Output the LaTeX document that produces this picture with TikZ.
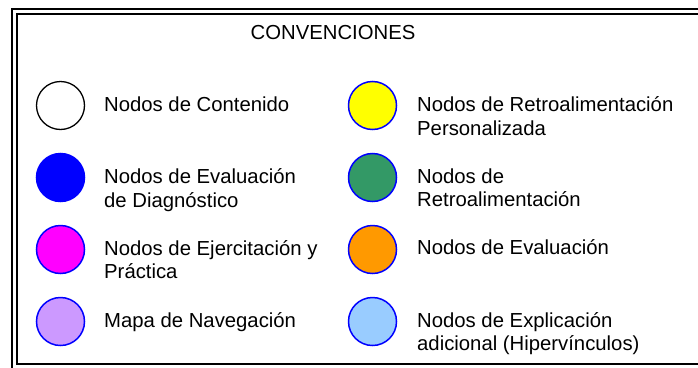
\documentclass[tikz,border=0pt]{standalone}
\usepackage{fontspec}
\setmainfont{Liberation Sans}
\usepackage{tikz}
\usetikzlibrary{positioning}

\definecolor{nodoBlue}{RGB}{0,0,255}
\definecolor{nodoMagenta}{RGB}{255,0,255}
\definecolor{nodoLila}{RGB}{204,153,255}
\definecolor{nodoYellow}{RGB}{255,255,0}
\definecolor{nodoGreen}{RGB}{51,153,102}
\definecolor{nodoOrange}{RGB}{255,153,0}
\definecolor{nodoSky}{RGB}{153,204,255}

\begin{document}
\begin{tikzpicture}[
  x=1pt,y=-1pt,
  dot/.style={circle,draw=nodoBlue,line width=1.5pt,minimum size=48pt,inner sep=0pt},
  lbl/.style={anchor=base west,align=left,inner sep=0pt,
              font=\fontsize{20.3}{23.5}\selectfont},
  frame/.style={draw=black,line width=2pt}
]
  \useasboundingbox (0,0) rectangle (698,367);
  \clip (0,0) rectangle (698,367);

  % double frame
  \draw[frame] (12,9) rectangle (720,390);
  \draw[frame] (17,14) rectangle (715,364);

  \node[font=\fontsize{20.3}{23.5}\selectfont,anchor=base] (title) at (333,39) {CONVENCIONES};

  % left column
  \node[dot,draw=black,line width=1.3pt,fill=white] (cont) at (60.5,105.5) {};
  \node[dot,fill=nodoBlue]    (diag) at (60.5,177.5) {};
  \node[dot,fill=nodoMagenta] (ejer) at (60.5,249.5) {};
  \node[dot,fill=nodoLila]    (mapa) at (60.5,321.5) {};

  % two-line labels sit on their last baseline
  \node[lbl] (contT) at (104,111) {Nodos de Contenido};
  \node[lbl] (diagT) at (104,207) {Nodos de Evaluación\\de Diagnóstico};
  \node[lbl] (ejerT) at (104,278.5) {Nodos de Ejercitación y\\Práctica};
  \node[lbl] (mapaT) at (104,327) {Mapa de Navegación};

  % right column
  \node[dot,fill=nodoYellow] (pers) at (372.5,105.5) {};
  \node[dot,fill=nodoGreen]  (retro) at (372.5,177.5) {};
  \node[dot,fill=nodoOrange] (eval) at (372.5,249.5) {};
  \node[dot,fill=nodoSky]    (expl) at (372.5,321.5) {};

  \node[lbl] (persT)  at (417,135) {Nodos de Retroalimentación\\Personalizada};
  \node[lbl] (retroT) at (417,206.5) {Nodos de\\Retroalimentación};
  \node[lbl] (evalT)  at (417,254) {Nodos de Evaluación};
  \node[lbl] (explT)  at (417,350.5) {Nodos de Explicación\\adicional (Hipervínculos)};
\end{tikzpicture}
\end{document}
